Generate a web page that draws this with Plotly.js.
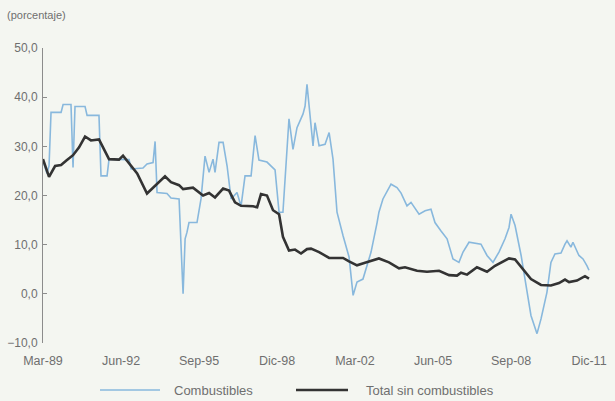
<!DOCTYPE html>
<html>
<head>
<meta charset="utf-8">
<script src="https://cdn.plot.ly/plotly-3.0.1.min.js"></script>
<style>
  html, body { margin: 0; padding: 0; background: #f4f6f1; }
  #chart { width: 615px; height: 401px; }
</style>
</head>
<body>
<div id="chart"></div>
<script>
// ---- Data ----
var tickDates = ['1989-03-01','1992-06-01','1995-09-01','1998-12-01','2002-03-01','2005-06-01','2008-09-01','2011-12-01'];
var tickLabels = ['Mar-89','Jun-92','Sep-95','Dic-98','Mar-02','Jun-05','Sep-08','Dic-11'];
var yTicks = [-10, 0, 10, 20, 30, 40, 50];

var totalDates = ['1989-03','1989-06','1989-09','1989-12','1990-03','1990-06','1990-09','1990-12','1991-03','1991-07',
  '1991-12','1992-05','1992-07','1992-11','1993-02','1993-07','1993-12','1994-04','1994-07','1994-11',
  '1995-01','1995-06','1995-11','1996-02','1996-05','1996-09','1996-12','1997-03','1997-06','1997-12',
  '1998-02','1998-04','1998-07','1998-10','1999-01','1999-03','1999-06','1999-09','1999-12','2000-03',
  '2000-05','2000-09','2001-02','2001-09','2001-12','2002-04','2002-08','2003-03','2003-08','2004-01',
  '2004-04','2004-10','2005-03','2005-09','2006-02','2006-06','2006-08','2006-11','2007-04','2007-09',
  '2008-01','2008-04','2008-08','2008-11','2009-02','2009-07','2009-12','2010-05','2010-09','2010-12',
  '2011-02','2011-06','2011-10','2011-12'];
var totalSinComb = [27.4,23.8,26.0,26.2,27.2,28.2,29.8,32.0,31.2,31.4,
  27.4,27.3,28.1,26.0,24.5,20.4,22.3,23.9,22.7,22.1,
  21.3,21.6,20.0,20.5,19.6,21.4,21.0,18.6,17.9,17.8,
  17.6,20.3,20.0,17.0,16.2,11.6,8.8,9.0,8.2,9.1,
  9.2,8.5,7.3,7.3,6.6,5.8,6.3,7.2,6.4,5.2,
  5.4,4.7,4.5,4.7,3.8,3.7,4.3,3.9,5.4,4.5,
  5.7,6.4,7.2,7.0,5.4,3.0,1.8,1.7,2.2,2.9,
  2.4,2.7,3.6,3.1];

var combDates = ['1989-03','1989-05','1989-06','1989-07','1989-12','1990-01','1990-05','1990-06','1990-07','1990-08',
  '1990-12','1991-01','1991-07','1991-08','1991-11','1991-12','1992-10','1992-11','1993-05','1993-07',
  '1993-10','1993-11','1993-12','1994-05','1994-07','1994-11','1994-12','1995-01','1995-02','1995-03',
  '1995-04','1995-08','1995-10','1995-12','1996-02','1996-04','1996-05','1996-07','1996-09','1996-11',
  '1997-01','1997-04','1997-06','1997-08','1997-11','1998-01','1998-03','1998-07','1998-11','1999-01',
  '1999-03','1999-05','1999-06','1999-08','1999-10','2000-01','2000-02','2000-03','2000-04','2000-06',
  '2000-07','2000-09','2000-12','2001-02','2001-04','2001-06','2001-09','2001-12','2002-02','2002-04',
  '2002-07','2002-11','2003-02','2003-03','2003-05','2003-09','2003-12','2004-02','2004-05','2004-07',
  '2004-11','2005-02','2005-05','2005-07','2005-10','2006-01','2006-04','2006-07','2006-09','2006-12',
  '2007-06','2007-09','2007-12','2008-03','2008-06','2008-08','2008-09','2008-11','2009-02','2009-05',
  '2009-07','2009-10','2009-12','2010-03','2010-05','2010-07','2010-10','2010-12','2011-01','2011-03',
  '2011-04','2011-07','2011-09','2011-11','2011-12'];
var combustibles = [27.0,24.5,26.0,36.9,36.9,38.5,38.5,25.7,38.1,38.1,
  38.1,36.3,36.3,24.0,24.0,27.4,27.3,25.4,25.6,26.4,
  26.7,31.0,20.6,20.4,19.5,19.3,8.0,0.0,11.2,12.5,
  14.5,14.5,19.3,28.0,24.7,27.4,24.7,30.8,30.8,26.0,
  19.3,20.6,17.8,24.0,24.0,32.2,27.2,26.8,25.2,16.6,
  16.6,28.5,35.6,29.4,33.8,36.6,38.2,42.6,38.0,30.1,
  34.8,30.1,30.4,32.8,27.4,16.6,11.8,7.5,-0.3,2.4,
  3.0,8.5,14.5,16.6,19.3,22.3,21.6,20.5,17.9,18.6,
  16.2,16.9,17.2,14.5,12.8,11.2,7.1,6.4,8.5,10.5,
  10.1,7.8,6.4,8.5,11.2,13.5,16.2,13.9,7.8,0.3,
  -4.4,-8.1,-5.1,0.3,6.4,8.1,8.3,10.1,10.8,9.5,
  10.5,7.8,7.1,5.7,4.8];

var seriesNames = ['Combustibles', 'Total sin combustibles'];
var seriesColors = ['#88b8dd', '#333333'];

// ---- Chart ----
var xRange = ['1989-03-01', '2012-01-16'];
var textColor = '#6f6f6f';
var axisColor = '#8c8c8c';

var traces = [
  { x: combDates, y: combustibles, name: seriesNames[0], type: 'scatter', mode: 'lines',
    line: { color: seriesColors[0], width: 1.6 }, xaxis: 'x', yaxis: 'y' },
  { x: totalDates, y: totalSinComb, name: seriesNames[1], type: 'scatter', mode: 'lines',
    line: { color: seriesColors[1], width: 2.6 }, xaxis: 'x', yaxis: 'y' }
];

var W = 615, H = 401, L = 43, R = 23, T = 48, B = 58;
var pw = W - L - R, ph = H - T - B;
function px(xp) { return (xp - L) / pw; }
function py(yp) { return (H - B - yp) / ph; }

var layout = {
  width: W, height: H, autosize: false,
  margin: { l: L, r: R, t: T, b: B, pad: 0 },
  paper_bgcolor: '#f4f6f1', plot_bgcolor: '#f4f6f1',
  separators: ',.',
  showlegend: false,
  font: { family: 'Liberation Sans, Arial, sans-serif', color: textColor, size: 12 },
  xaxis: {
    type: 'date', range: xRange, tickvals: tickDates, ticktext: tickLabels,
    showline: false, showgrid: false, zeroline: false, ticks: '', ticklabelstandoff: 8,
    tickfont: { size: 12.5, color: textColor }, fixedrange: true
  },
  xaxis2: {
    type: 'date', range: xRange, overlaying: 'x', anchor: 'free', position: 10 / 60,
    tickvals: tickDates, showticklabels: false, showline: true, linecolor: axisColor, linewidth: 1,
    ticks: 'inside', ticklen: 4, tickcolor: axisColor, showgrid: false, zeroline: false
  },
  yaxis: {
    range: [-10, 50], tickvals: yTicks, tickformat: '.1f',
    showline: true, linecolor: axisColor, linewidth: 1,
    ticks: 'inside', ticklen: 4, tickcolor: axisColor,
    showgrid: false, zeroline: false, ticklabelstandoff: 2,
    tickfont: { size: 12, color: textColor }
  },
  annotations: [
    { text: '(porcentaje)', xref: 'paper', yref: 'paper', x: px(5), y: py(15),
      xanchor: 'left', yanchor: 'middle', showarrow: false, font: { size: 11, color: textColor } },
    { text: seriesNames[0], xref: 'paper', yref: 'paper', x: px(172), y: py(390),
      xanchor: 'left', yanchor: 'middle', showarrow: false, font: { size: 13, color: textColor } },
    { text: seriesNames[1], xref: 'paper', yref: 'paper', x: px(364), y: py(390),
      xanchor: 'left', yanchor: 'middle', showarrow: false, font: { size: 13, color: textColor } }
  ],
  shapes: [
    { type: 'line', xref: 'paper', yref: 'paper', x0: px(100), x1: px(160), y0: py(390), y1: py(390),
      line: { color: seriesColors[0], width: 1.6 } },
    { type: 'line', xref: 'paper', yref: 'paper', x0: px(296), x1: px(348), y0: py(390), y1: py(390),
      line: { color: seriesColors[1], width: 2.6 } }
  ]
};

Plotly.newPlot('chart', traces, layout, { displayModeBar: false, staticPlot: true });
</script>
</body>
</html>
